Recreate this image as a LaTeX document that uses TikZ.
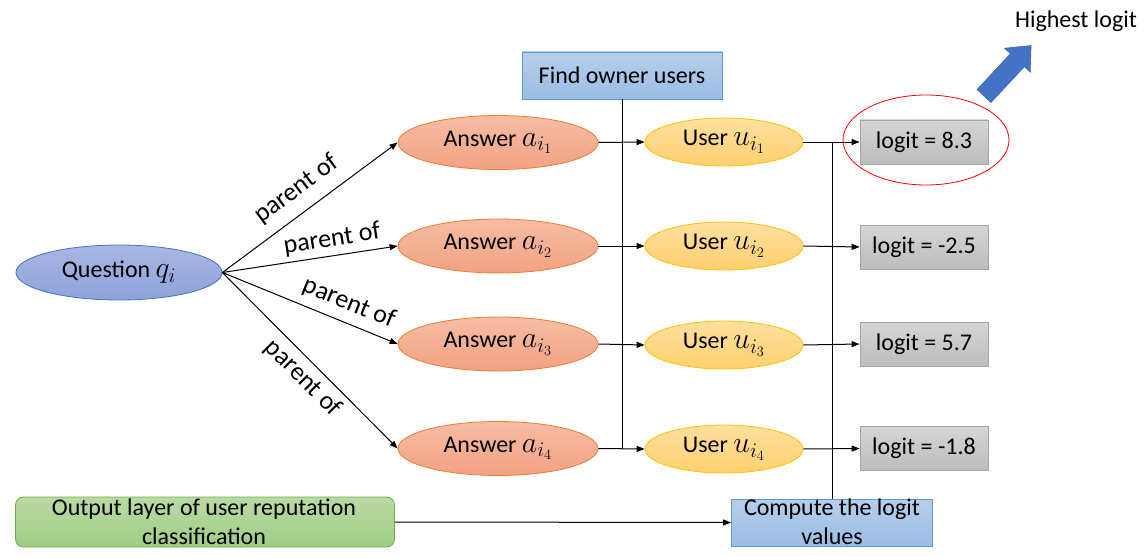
\documentclass[tikz,border=0pt]{standalone}
\usepackage{graphicx}
\usepackage{fontspec}
\setmainfont{Carlito}
\usetikzlibrary{arrows.meta,shapes.geometric}
\definecolor{qtop}{HTML}{A8B7E3}
\definecolor{qbot}{HTML}{8EA3DA}
\definecolor{qbord}{HTML}{4472C4}
\definecolor{atop}{HTML}{F6BCA4}
\definecolor{abot}{HTML}{F3A283}
\definecolor{abord}{HTML}{ED7D31}
\definecolor{utop}{HTML}{FFE0A0}
\definecolor{ubot}{HTML}{FFD06E}
\definecolor{ubord}{HTML}{FFC000}
\definecolor{ltop}{HTML}{D6D6D6}
\definecolor{lbot}{HTML}{BCBCBC}
\definecolor{lbord}{HTML}{A5A5A5}
\definecolor{btop}{HTML}{B7CEEA}
\definecolor{bbot}{HTML}{9BBDE5}
\definecolor{bbord}{HTML}{5B9BD5}
\definecolor{gtop}{HTML}{B9DAA4}
\definecolor{gbot}{HTML}{A0CD84}
\definecolor{gbord}{HTML}{70AD47}
\definecolor{bigarrow}{HTML}{4472C4}
\definecolor{bigarrowb}{HTML}{3A64B0}
\newcommand\mv[1]{\scalebox{1.2}{$#1$}}
\tikzset{
  txt/.style={font=\fontsize{24}{29}\selectfont},
  qnode/.style={ellipse, draw=qbord, top color=qtop, bottom color=qbot, minimum width=206, minimum height=55, inner sep=0, line width=0.8, txt},
  anode/.style={ellipse, draw=abord, top color=atop, bottom color=abot, minimum width=200, minimum height=54, inner sep=0, line width=0.8, txt},
  unode/.style={ellipse, draw=ubord, top color=utop, bottom color=ubot, minimum width=158, minimum height=48, inner sep=0, line width=0.8, txt},
  lnode/.style={rectangle, draw=lbord, top color=ltop, bottom color=lbot, minimum width=128, minimum height=44, inner sep=0, line width=0.8, txt},
  bnode/.style={rectangle, draw=bbord, top color=btop, bottom color=bbot, minimum width=200, minimum height=47, inner sep=0, line width=0.8, txt},
  gnode/.style={rectangle, rounded corners=8, draw=gbord, top color=gtop, bottom color=gbot, minimum width=379, minimum height=50, inner sep=0, line width=0.8},
  arr/.style={-{Triangle[length=8,width=6]}, line width=1},
  plain/.style={line width=1},
  plab/.style={font=\fontsize{26}{30}\selectfont, inner sep=0, sloped},
}
\begin{document}
\begin{tikzpicture}[x=1pt, y=-1pt]
\useasboundingbox (0,0) rectangle (1145,559);
% nodes
\node[qnode] (q) at (119,272.5) {Question \mv{q_i}};
\node[anode] (a1) at (498,142.5) {Answer \mv{a_{i_1}}};
\node[anode] (a2) at (498,246) {Answer \mv{a_{i_2}}};
\node[anode] (a3) at (498,344) {Answer \mv{a_{i_3}}};
\node[anode] (a4) at (498,448.5) {Answer \mv{a_{i_4}}};
\node[unode] (u1) at (724,142) {User \mv{u_{i_1}}};
\node[unode] (u2) at (724,246) {User \mv{u_{i_2}}};
\node[unode] (u3) at (724,345) {User \mv{u_{i_3}}};
\node[unode] (u4) at (724,449) {User \mv{u_{i_4}}};
\node[lnode] (l1) at (924,142) {logit = 8.3};
\node[lnode] (l2) at (924,247) {logit = -2.5};
\node[lnode] (l3) at (924,344) {logit = 5.7};
\node[lnode] (l4) at (924,448.5) {logit = -1.8};
\node[bnode] (find) at (622,75.5) {Find owner users};
\node[bnode, minimum width=201] (comp) at (832,522.5) {};
\node[txt, align=center, inner sep=0] (comptext) at (832,522) {Compute the logit\\values};
\node[gnode] (out) at (205,522) {};
\node[txt, align=center, inner sep=0] (outtext) at (204,522) {Output layer of user reputation\\classification};
\node[ellipse, draw=red, minimum width=166, minimum height=90, inner sep=0, line width=0.8] (hl) at (926,140) {};
\node[txt, inner sep=0] (hi) at (1076,21) {Highest logit};
% big arrow
\begin{scope}[shift={(984,96)}, rotate=47]
\fill[bigarrow, draw=bigarrowb, line width=0.6] (0,-9.5) -- (49,-9.5) -- (49,-17.5) -- (69,0) -- (49,17.5) -- (49,9.5) -- (0,9.5) -- cycle;
\end{scope}
% connectors
\draw[arr] (q.east) -- (a1.west) node[plab, pos=0.50, above=11] (p1) {parent of};
\draw[arr] (q.east) -- (a2.west) node[plab, pos=0.64, above=5] (p2) {parent of};
\draw[arr] (q.east) -- (a3.west) node[plab, pos=0.68, above=8] (p3) {parent of};
\draw[arr] (q.east) -- (a4.west) node[plab, pos=0.53, below=6] (p4) {parent of};
\foreach \i in {1,2,3,4} {
  \draw[arr] (a\i.east) -- (u\i.west);
  \draw[arr] (u\i.east) -- (l\i.west);
}
\draw[plain] (find.south) -- (find.south |- a4.east);
\draw[plain] (comp.north) -- (comp.north |- u1.east);
\draw[arr] (out.east) -- (comp.west);
\end{tikzpicture}
\end{document}
